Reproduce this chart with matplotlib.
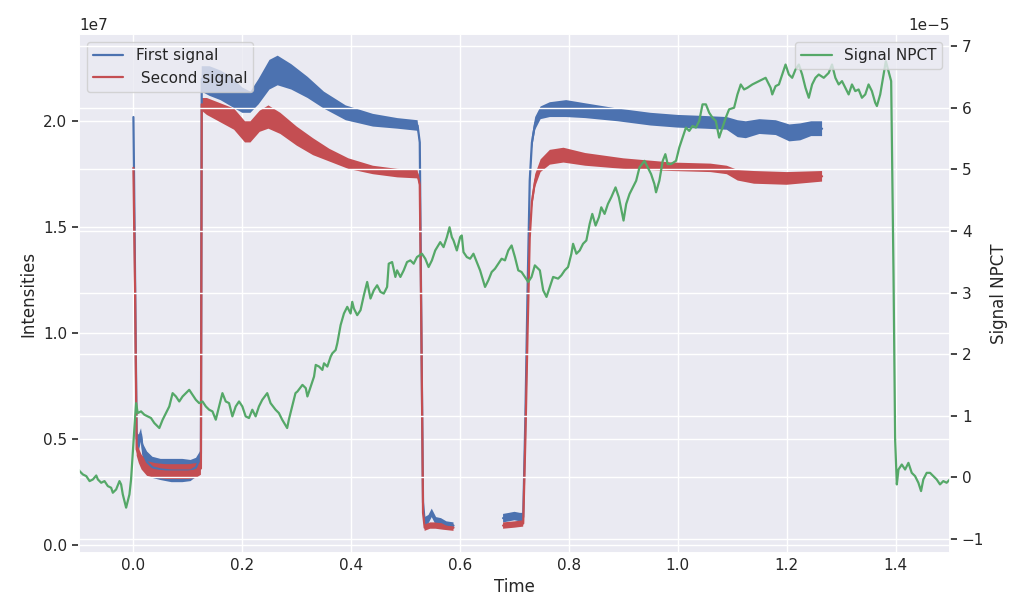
import numpy as np
import matplotlib
matplotlib.use("Agg")
import matplotlib.pyplot as plt
import seaborn as sns

sns.set_theme(style="darkgrid")
plt.rcParams['font.family'] = ['DejaVu Sans']

nan = np.nan

# first signal: time, intensity (1e7), half width of the noise band (1e7)
first_signal = [
    (0.000, 2.02, 0.0), (0.001, 1.78, 0.0), (0.006, 0.50, 0.03), (0.010, 0.48, 0.04),
    (0.014, 0.52, 0.03), (0.018, 0.43, 0.045), (0.025, 0.39, 0.05), (0.035, 0.365, 0.05),
    (0.050, 0.355, 0.05), (0.070, 0.35, 0.055), (0.090, 0.35, 0.055), (0.105, 0.35, 0.05),
    (0.115, 0.365, 0.045), (0.121, 0.40, 0.035), (0.124, 0.43, 0.02), (0.1255, 2.20, 0.06),
    (0.140, 2.19, 0.07), (0.160, 2.17, 0.07), (0.180, 2.14, 0.07), (0.200, 2.10, 0.06),
    (0.215, 2.09, 0.05), (0.230, 2.14, 0.06), (0.250, 2.22, 0.07), (0.265, 2.24, 0.07),
    (0.290, 2.21, 0.06), (0.320, 2.16, 0.05), (0.350, 2.10, 0.04), (0.390, 2.04, 0.035),
    (0.440, 2.005, 0.03), (0.485, 1.99, 0.025), (0.522, 1.98, 0.025), (0.526, 1.90, 0.01),
    (0.529, 1.00, 0.0), (0.532, 0.20, 0.01), (0.535, 0.11, 0.02), (0.542, 0.12, 0.02),
    (0.548, 0.15, 0.02), (0.556, 0.11, 0.02), (0.565, 0.11, 0.015), (0.575, 0.095, 0.015),
    (0.588, 0.09, 0.015), (0.630, nan, nan),
    (0.679, 0.125, 0.02), (0.690, 0.13, 0.02), (0.700, 0.135, 0.02), (0.710, 0.13, 0.02),
    (0.716, 0.13, 0.02), (0.720, 0.60, 0.0), (0.724, 1.20, 0.0), (0.728, 1.72, 0.03),
    (0.732, 1.90, 0.03), (0.738, 1.99, 0.03), (0.748, 2.04, 0.03), (0.765, 2.055, 0.035),
    (0.795, 2.06, 0.04), (0.830, 2.05, 0.035), (0.890, 2.03, 0.03), (0.950, 2.01, 0.03),
    (1.000, 2.00, 0.03), (1.050, 1.995, 0.03), (1.090, 1.99, 0.03), (1.110, 1.965, 0.04),
    (1.125, 1.96, 0.04), (1.150, 1.975, 0.035), (1.180, 1.97, 0.035), (1.205, 1.945, 0.04),
    (1.225, 1.95, 0.04), (1.245, 1.965, 0.035), (1.265, 1.965, 0.035),
]

second_signal = [
    (0.000, 1.78, 0.0), (0.003, 1.20, 0.0), (0.006, 0.45, 0.03), (0.010, 0.42, 0.035),
    (0.015, 0.39, 0.035), (0.025, 0.36, 0.035), (0.040, 0.35, 0.035), (0.060, 0.345, 0.035),
    (0.080, 0.345, 0.035), (0.100, 0.345, 0.035), (0.115, 0.35, 0.035), (0.124, 0.36, 0.03),
    (0.1255, 2.08, 0.03), (0.135, 2.07, 0.04), (0.160, 2.04, 0.045), (0.185, 2.01, 0.05),
    (0.205, 1.95, 0.05), (0.215, 1.95, 0.05), (0.232, 2.00, 0.05), (0.248, 2.02, 0.055),
    (0.270, 1.99, 0.05), (0.300, 1.93, 0.045), (0.330, 1.88, 0.04), (0.360, 1.84, 0.03),
    (0.395, 1.80, 0.025), (0.440, 1.77, 0.02), (0.485, 1.755, 0.02), (0.522, 1.75, 0.02),
    (0.526, 1.70, 0.01), (0.529, 1.00, 0.0), (0.532, 0.15, 0.01), (0.535, 0.08, 0.015),
    (0.545, 0.09, 0.015), (0.555, 0.09, 0.015), (0.570, 0.085, 0.015), (0.588, 0.08, 0.015),
    (0.630, nan, nan),
    (0.679, 0.09, 0.015), (0.700, 0.095, 0.015), (0.716, 0.10, 0.015), (0.720, 0.50, 0.0),
    (0.724, 1.00, 0.0), (0.728, 1.45, 0.02), (0.732, 1.62, 0.03), (0.738, 1.72, 0.03),
    (0.748, 1.79, 0.03), (0.765, 1.83, 0.035), (0.790, 1.84, 0.035), (0.830, 1.82, 0.03),
    (0.900, 1.80, 0.025), (0.990, 1.785, 0.02), (1.060, 1.78, 0.02), (1.090, 1.77, 0.02),
    (1.110, 1.745, 0.025), (1.140, 1.735, 0.03), (1.200, 1.73, 0.03), (1.265, 1.74, 0.025),
]

# Signal NPCT: time, value (1e-5)
npct_signal = [
    (-0.100, 0.12), (-0.0988, 0.102), (-0.0927, 0.048), (-0.0866, 0.022), (-0.0805, -0.059),
    (-0.0744, -0.032), (-0.0683, 0.032), (-0.0653, -0.032), (-0.0592, -0.086), (-0.0531, -0.059),
    (-0.0470, -0.140), (-0.0409, -0.167), (-0.0378, -0.248), (-0.0317, -0.194), (-0.0256, -0.059),
    (-0.0226, -0.113), (-0.0195, -0.275), (-0.0134, -0.490), (-0.0073, -0.275), (-0.0043, -0.032),
    (-0.0012, 0.399), (0.0018, 0.802), (0.0049, 1.206), (0.0079, 1.045), (0.0140, 1.072),
    (0.0201, 1.018), (0.0262, 0.991), (0.0323, 0.964), (0.0384, 0.883), (0.0476, 0.802),
    (0.0537, 0.937), (0.0598, 1.045), (0.0659, 1.152), (0.0720, 1.368), (0.0781, 1.314),
    (0.0842, 1.233), (0.0903, 1.314), (0.0964, 1.368), (0.1025, 1.422), (0.1086, 1.341),
    (0.1147, 1.260), (0.1208, 1.206), (0.1269, 1.233), (0.1330, 1.152), (0.1391, 1.099),
    (0.1452, 1.072), (0.1513, 0.937), (0.1574, 1.152), (0.1635, 1.368), (0.1696, 1.233),
    (0.1757, 1.206), (0.1818, 0.991), (0.1879, 1.152), (0.1940, 1.233), (0.2001, 1.152),
    (0.2062, 0.991), (0.2123, 0.964), (0.2184, 1.099), (0.2245, 0.991), (0.2306, 1.152),
    (0.2367, 1.260), (0.2458, 1.368), (0.2519, 1.206), (0.2611, 1.099), (0.2672, 1.045),
    (0.2733, 0.937), (0.2824, 0.802), (0.2855, 0.937), (0.2916, 1.152), (0.2977, 1.368),
    (0.3013, 1.395), (0.3105, 1.502), (0.3166, 1.449), (0.3196, 1.314), (0.3257, 1.475),
    (0.3318, 1.637), (0.3349, 1.826), (0.3410, 1.799), (0.3471, 1.745), (0.3501, 1.852),
    (0.3562, 1.799), (0.3623, 1.960), (0.3654, 2.014), (0.3715, 2.068), (0.3745, 2.176),
    (0.3806, 2.472), (0.3867, 2.660), (0.3928, 2.768), (0.3989, 2.660), (0.4020, 2.849),
    (0.4050, 2.741), (0.4111, 2.633), (0.4172, 2.714), (0.4233, 2.956), (0.4294, 3.172),
    (0.4355, 2.903), (0.4416, 3.037), (0.4477, 3.118), (0.4538, 3.010), (0.4599, 2.983),
    (0.4660, 3.091), (0.4690, 3.468), (0.4752, 3.495), (0.4812, 3.253), (0.4843, 3.360),
    (0.4904, 3.253), (0.4965, 3.360), (0.5026, 3.495), (0.5087, 3.522), (0.5148, 3.468),
    (0.5209, 3.576), (0.5300, 3.630), (0.5361, 3.549), (0.5422, 3.414), (0.5483, 3.522),
    (0.5544, 3.683), (0.5636, 3.818), (0.5697, 3.737), (0.5758, 3.899), (0.5807, 4.060),
    (0.5849, 3.899), (0.5880, 3.845), (0.5941, 3.683), (0.6002, 3.899), (0.6032, 3.926),
    (0.6063, 3.656), (0.6124, 3.576), (0.6185, 3.549), (0.6246, 3.630), (0.6307, 3.495),
    (0.6368, 3.360), (0.6459, 3.091), (0.6520, 3.199), (0.6581, 3.333), (0.6642, 3.387),
    (0.6703, 3.468), (0.6764, 3.549), (0.6825, 3.522), (0.6886, 3.683), (0.6947, 3.764),
    (0.7008, 3.576), (0.7069, 3.360), (0.7130, 3.333), (0.7191, 3.253), (0.7252, 3.172),
    (0.7313, 3.253), (0.7374, 3.441), (0.7435, 3.387), (0.7466, 3.360), (0.7527, 3.037),
    (0.7588, 2.929), (0.7649, 3.091), (0.7710, 3.253), (0.7801, 3.226), (0.7862, 3.280),
    (0.7923, 3.360), (0.7984, 3.414), (0.8045, 3.630), (0.8076, 3.791), (0.8137, 3.630),
    (0.8198, 3.683), (0.8259, 3.791), (0.8320, 3.845), (0.8381, 4.114), (0.8429, 4.276),
    (0.8490, 4.087), (0.8551, 4.222), (0.8594, 4.383), (0.8655, 4.276), (0.8716, 4.437),
    (0.8777, 4.545), (0.8856, 4.706), (0.8917, 4.545), (0.9003, 4.168), (0.9052, 4.437),
    (0.9113, 4.599), (0.9173, 4.706), (0.9235, 4.814), (0.9296, 5.030), (0.9387, 5.137),
    (0.9448, 5.030), (0.9509, 4.922), (0.9570, 4.760), (0.9600, 4.626), (0.9661, 4.814),
    (0.9723, 5.137), (0.9771, 5.245), (0.9814, 5.084), (0.9875, 5.084), (0.9967, 5.137),
    (1.0027, 5.353), (1.0088, 5.514), (1.0149, 5.676), (1.0210, 5.622), (1.0271, 5.703),
    (1.0332, 5.676), (1.0393, 5.784), (1.0454, 6.053), (1.0516, 6.053), (1.0576, 5.918),
    (1.0637, 5.837), (1.0698, 5.784), (1.0759, 5.514), (1.0820, 5.676), (1.0881, 5.837),
    (1.0942, 5.972), (1.1034, 5.999), (1.1095, 6.214), (1.1156, 6.376), (1.1217, 6.295),
    (1.1278, 6.322), (1.1369, 6.376), (1.1491, 6.430), (1.1613, 6.484), (1.1705, 6.322),
    (1.1735, 6.214), (1.1796, 6.349), (1.1857, 6.376), (1.1918, 6.537), (1.1979, 6.699),
    (1.2040, 6.537), (1.2101, 6.484), (1.2162, 6.618), (1.2223, 6.699), (1.2284, 6.537),
    (1.2345, 6.322), (1.2406, 6.160), (1.2467, 6.376), (1.2528, 6.484), (1.2589, 6.537),
    (1.2681, 6.484), (1.2772, 6.564), (1.2833, 6.699), (1.2894, 6.484), (1.2955, 6.376),
    (1.3016, 6.430), (1.3077, 6.322), (1.3138, 6.214), (1.3199, 6.376), (1.3260, 6.268),
    (1.3321, 6.295), (1.3382, 6.160), (1.3443, 6.214), (1.3504, 6.376), (1.3565, 6.268),
    (1.3626, 6.080), (1.3657, 6.026), (1.3718, 6.214), (1.3779, 6.537), (1.3821, 6.753),
    (1.3870, 6.591), (1.3919, 6.430), (1.3962, 3.306), (1.3992, 0.614), (1.4023, -0.113),
    (1.4053, 0.129), (1.4114, 0.210), (1.4175, 0.129), (1.4236, 0.237), (1.4297, 0.075),
    (1.4358, 0.022), (1.4419, -0.086), (1.4468, -0.221), (1.4510, -0.032), (1.4572, 0.075),
    (1.4633, 0.075), (1.4694, 0.022), (1.4755, -0.032), (1.4816, -0.113), (1.4877, -0.059),
    (1.4938, -0.086), (1.5000, -0.030),
]

t1, s1, w1 = np.array(first_signal).T
t2, s2, w2 = np.array(second_signal).T
t3, s3 = np.array(npct_signal).T
s1, w1, s2, w2 = s1 * 1e7, w1 * 1e7, s2 * 1e7, w2 * 1e7
s3 = s3 * 1e-5

blue = '#4C72B0'
red = '#C44E52'
green = '#55A868'

fig, ax = plt.subplots(figsize=(10.19, 6.10), dpi=100)
fig.subplots_adjust(left=0.0775, right=0.9323, bottom=0.094, top=0.9438)

ax.fill_between(t1, s1 - w1, s1 + w1, color=blue, lw=0)
ax.plot(t1, s1, color=blue, lw=1.6, label='First signal')
ax.fill_between(t2, s2 - w2, s2 + w2, color=red, lw=0)
ax.plot(t2, s2, color=red, lw=1.6, label=' Second signal')
ax.set_xlim(-0.1, 1.5)
ax.set_ylim(-0.038e7, 2.411e7)
ax.set_xlabel('Time', fontsize=12)
ax.set_ylabel('Intensities', fontsize=12)
ax.legend(loc='upper left', fontsize=11)

ax2 = ax.twinx()
ax2.plot(t3, s3, color=green, lw=1.6, label='Signal NPCT')
ax2.set_ylim(-1.22e-5, 7.19e-5)
ax2.set_ylabel('Signal NPCT', fontsize=12)
ax2.legend(loc='upper right', fontsize=11)

for a in (ax, ax2):
    a.tick_params(axis='y', length=5, width=1.2, color='#262626', labelsize=11)
    a.tick_params(axis='x', length=0, labelsize=11)
    a.yaxis.get_offset_text().set_fontsize(11)

fig.savefig('out.png', dpi=100)
